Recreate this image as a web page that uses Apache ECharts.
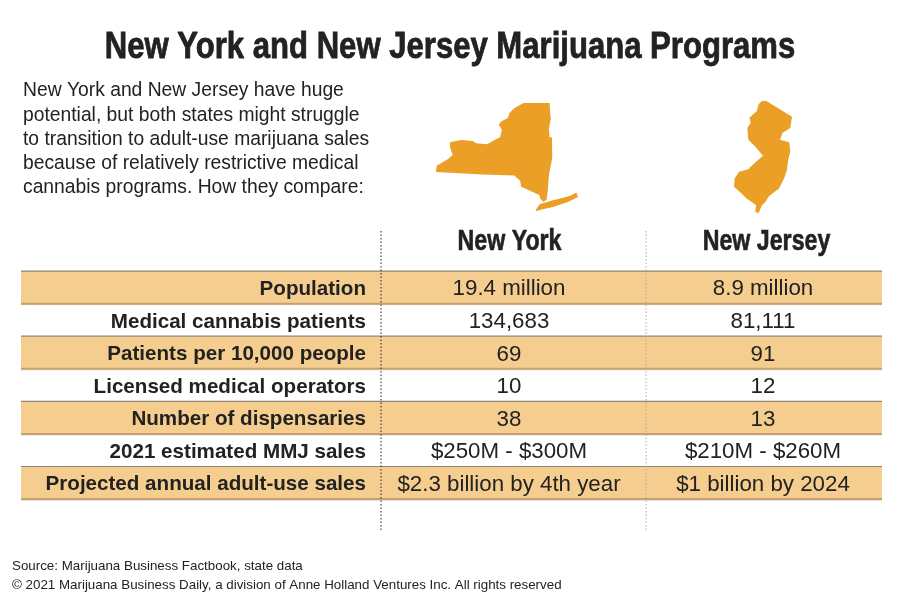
<!DOCTYPE html>
<html>
<head>
<meta charset="utf-8">
<style>html,body{margin:0;padding:0;background:#fff}#chart{width:900px;height:600px}</style>
<script src="https://cdn.jsdelivr.net/npm/echarts@6/dist/echarts.min.js"></script>
</head>
<body>
<div id="chart"></div>
<script>
const rowLabels = [
  "Population",
  "Medical cannabis patients",
  "Patients per 10,000 people",
  "Licensed medical operators",
  "Number of dispensaries",
  "2021 estimated MMJ sales",
  "Projected annual adult-use sales",
];
const newYorkValues = ["19.4 million", "134,683", "69", "10", "38", "$250M - $300M", "$2.3 billion by 4th year"];
const newJerseyValues = ["8.9 million", "81,111", "91", "12", "13", "$210M - $260M", "$1 billion by 2024"];
const columnHeaders = ["New York", "New Jersey"];
const titleText = "New York and New Jersey Marijuana Programs";
const introLines = [
  "New York and New Jersey have huge",
  "potential, but both states might struggle",
  "to transition to adult-use marijuana sales",
  "because of relatively restrictive medical",
  "cannabis programs. How they compare:",
];
const footerLines = [
  "Source: Marijuana Business Factbook, state data",
  "\u00a9 2021 Marijuana Business Daily, a division of Anne Holland Ventures Inc. All rights reserved",
];

// state outlines, y pointing down
const newYorkMain = [[312,130],[390,130],[392,165],[394,175],[390,195],[388,210],[390,232],[397,232],[398,290],[395,310],[388,345],[384,395],[381,418],[372,425],[362,415],[360,405],[340,395],[305,380],[302,362],[288,350],[285,346],[190,343],[50,336],[52,317],[85,298],[100,285],[92,262],[92,247],[125,240],[160,243],[170,250],[203,253],[225,240],[242,232],[247,210],[238,195],[245,185],[265,175],[270,160],[285,145]];
const longIsland = [[348,450],[360,432],[400,420],[440,410],[455,405],[470,397],[475,410],[445,425],[400,440],[370,447],[350,452]];
const newJerseyShape = [[185,35],[198,35],[273,82],[268,115],[245,130],[238,150],[265,158],[268,185],[262,210],[258,240],[250,265],[235,295],[205,318],[195,335],[185,345],[175,368],[165,365],[168,345],[140,325],[125,310],[103,290],[105,265],[118,245],[145,238],[160,222],[188,198],[165,170],[145,150],[142,115],[152,100],[148,85],[170,65],[175,45]];

const stateColor = "#ec9f27";
const stripeColor = "#f5ce8f";
const inkColor = "#222222";
const bodyFont = "Liberation Sans";

function toRing(points) {
  const ring = points.map(([x, y]) => [x, -y]);
  ring.push(ring[0]);
  return ring;
}

function stateGeo(name, polygons) {
  return {
    type: "FeatureCollection",
    features: [{
      type: "Feature",
      properties: { name },
      geometry: { type: "MultiPolygon", coordinates: polygons.map((p) => [toRing(p)]) },
    }],
  };
}

echarts.registerMap("ny", stateGeo("New York", [newYorkMain, longIsland]));
echarts.registerMap("nj", stateGeo("New Jersey", [newJerseyShape]));

function stateMap(map, left, top, width, height) {
  return {
    map,
    left, top, width, height,
    aspectScale: 1,
    roam: false,
    silent: true,
    label: { show: false },
    itemStyle: { areaColor: stateColor, borderWidth: 0 },
  };
}

const chart = echarts.init(document.getElementById("chart"));

// table axis runs in row units, x in pixels from the left of the table
const labelRight = 345;
const dividerNY = 360;
const dividerNJ = 625;
const centerNY = 488;
const centerNJ = 742;
const headerNY = 488.5;
const headerNJ = 745.5;
const textDrop = 0.56;

function textSeries(data, position, fontSize, fontWeight) {
  return {
    type: "scatter",
    symbolSize: 0,
    silent: true,
    z: 5,
    itemStyle: { opacity: 1 },
    data,
    label: {
      show: true,
      position,
      distance: 0,
      formatter: (p) => p.data[2],
      fontFamily: bodyFont,
      fontSize,
      fontWeight,
      color: inkColor,
    },
  };
}

function dividerSeries(x, color) {
  return {
    type: "line",
    symbol: "none",
    silent: true,
    z: 4,
    lineStyle: { color, width: 1, type: [1.5, 2] },
    data: [[x, -1.23], [x, 7.98]],
  };
}

chart.setOption({
  animation: false,
  backgroundColor: "#fff",
  title: [
    {
      text: introLines.join("\n"),
      left: 23, top: 79, padding: 0,
      textStyle: { fontFamily: bodyFont, fontSize: 19.3, fontWeight: "normal", lineHeight: 24.2, color: inkColor },
    },
    {
      text: footerLines.join("\n"),
      left: 12, top: 557, padding: 0,
      textStyle: { fontFamily: bodyFont, fontSize: 13.35, fontWeight: "normal", lineHeight: 19, color: inkColor },
    },
  ],
  // no narrow face is installed, so the headline is squeezed by hand
  graphic: [{
    type: "text",
    x: 450, y: 48,
    scaleX: 0.84,
    style: {
      text: titleText,
      font: "bold 37px 'Liberation Sans'",
      fill: inkColor,
      stroke: inkColor,
      lineWidth: 0.8,
      align: "center",
      verticalAlign: "middle",
    },
  }],
  geo: [stateMap("ny", 436, 103, 142, 108), stateMap("nj", 734, 101, 58, 112)],
  grid: { left: 21, width: 861, top: 231, height: 300, show: false },
  xAxis: { type: "value", min: 0, max: 861, show: false },
  yAxis: { type: "value", min: -1.23, max: 7.98, inverse: true, show: false },
  series: [
    {
      type: "custom",
      silent: true,
      z: 1,
      data: rowLabels.map((_, i) => [i]).filter(([i]) => i % 2 === 0),
      renderItem: (params, api) => {
        const row = api.value(0);
        const a = api.coord([0, row]);
        const b = api.coord([861, row + 1]);
        return {
          type: "group",
          children: [
            { type: "rect", shape: { x: a[0], y: a[1], width: b[0] - a[0], height: b[1] - a[1] }, style: { fill: stripeColor } },
            { type: "line", shape: { x1: a[0], y1: a[1], x2: b[0], y2: a[1] }, style: { stroke: "#8f8574", lineWidth: 1.2 } },
            { type: "line", shape: { x1: a[0], y1: b[1] + 1, x2: b[0], y2: b[1] + 1 }, style: { stroke: "#d5d0c8", lineWidth: 1 } },
            { type: "line", shape: { x1: a[0], y1: b[1], x2: b[0], y2: b[1] }, style: { stroke: "#c4a26f", lineWidth: 2 } },
          ],
        };
      },
    },
    dividerSeries(dividerNY, "#222222"),
    dividerSeries(dividerNJ, "#a8a8a8"),
    textSeries(rowLabels.map((t, i) => [labelRight, i + textDrop, t]), "left", 20.6, "bold"),
    textSeries(newYorkValues.map((t, i) => [centerNY, i + textDrop, t]), "inside", 22.3, "normal"),
    textSeries(newJerseyValues.map((t, i) => [centerNJ, i + textDrop, t]), "inside", 22.3, "normal"),
    {
      type: "custom",
      silent: true,
      z: 5,
      data: [[headerNY, -0.88], [headerNJ, -0.88]],
      renderItem: (params, api) => {
        const p = api.coord([api.value(0), api.value(1)]);
        return {
          type: "text",
          x: p[0],
          y: p[1],
          scaleX: 0.8,
          style: {
            text: columnHeaders[params.dataIndex],
            font: "bold 29px 'Liberation Sans'",
            fill: inkColor,
            stroke: inkColor,
            lineWidth: 0.6,
            align: "center",
            verticalAlign: "middle",
          },
        };
      },
    },
  ],
});
</script>
</body>
</html>
